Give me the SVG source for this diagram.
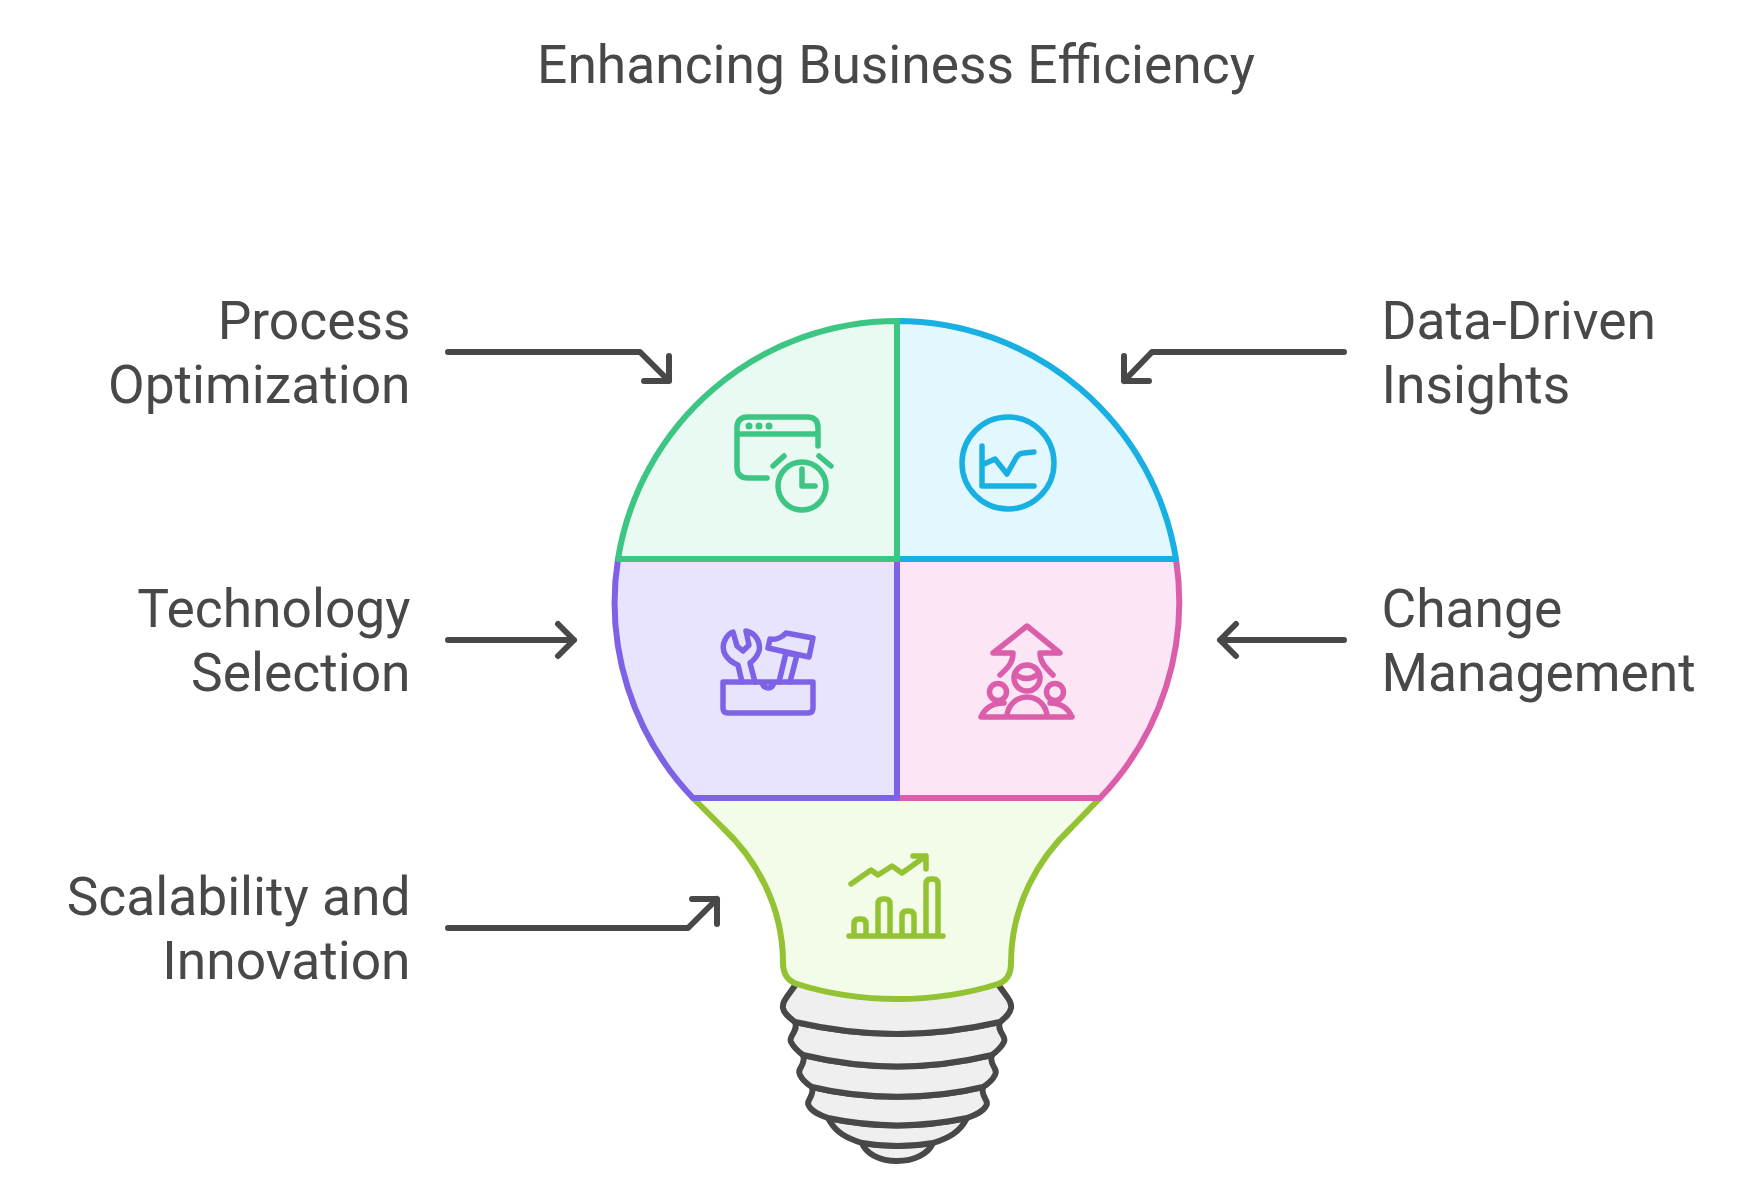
<svg xmlns="http://www.w3.org/2000/svg" width="1761" height="1195" viewBox="0 0 1761 1195">
<style>
text{font-family:Roboto,"Liberation Sans",sans-serif;font-size:53.33px;fill:#484848}
.e{text-anchor:end}
.a{fill:none;stroke:#484848;stroke-width:6px;stroke-linecap:round;stroke-linejoin:round}
.i{fill:none;stroke-width:5.5px;stroke-linecap:round;stroke-linejoin:round}
.b{fill:#efefef;stroke:#484848;stroke-width:6px;stroke-linejoin:round;stroke-linecap:round}
.s{stroke-width:6px;stroke-linejoin:round}
</style>
<rect width="1761" height="1195" fill="#fff"/>
<text id="title" x="896" y="83" text-anchor="middle">Enhancing Business Efficiency</text>
<g id="base">
<path class="b" d="M862,1143C866,1154 880,1161 897,1161C914,1161 928,1154 933,1143C910,1147 885,1147 862,1143Z"/>
<path class="b" d="M828,1118C835,1132 846,1138 862,1143C885,1147 910,1147 933,1143C949,1138 960,1132 967,1118C920,1128 875,1128 828,1118Z"/>
<path class="b" d="M812,1087C815,1096 805,1101 809,1106C812,1112 820,1115 828,1118C875,1128 920,1128 967,1118C975,1115 983,1112 986,1106C990,1101 980,1096 983,1087C930,1100 865,1100 812,1087Z"/>
<path class="b" d="M803,1055C807,1064 796,1069 800,1075C803,1081 807,1084 812,1087C865,1100 930,1100 983,1087C988,1084 992,1081 995,1075C999,1069 988,1064 992,1055C930,1070 865,1070 803,1055Z"/>
<path class="b" d="M795,1022C799,1031 788,1036 791,1042C794,1048 799,1052 803,1055C865,1070 930,1070 992,1055C996,1052 1001,1048 1004,1042C1007,1036 996,1031 1000,1022C930,1038 865,1038 795,1022Z"/>
<path class="b" d="M796,984C788,996 782,1001 783,1008C784,1014 790,1018 795,1022C865,1038 930,1038 1000,1022C1005,1018 1010,1014 1011,1008C1012,1001 1006,996 998,984Z"/>
</g>
<g id="scalability-innovation">
<path class="s" fill="#f3fbe9" stroke="#93c332" d="M693,798L723,828C755,858 783,905 783,963C783,974 788,981 797,984C860,1004 934,1004 998,984C1007,981 1011,974 1011,963C1011,905 1039,858 1071,828L1100,798Z"/>
<g class="i" stroke="#93c332">
<path d="M851,884L871,870L878,875L892,866L902,873L926,856M913,856H926V869"/>
<path d="M849,936H943M854,936V924Q854,919 859,919H861Q866,919 866,924V936M878,936V904Q878,899 883,899H885Q890,899 890,904V936M902,936V916Q902,911 907,911H909Q914,911 914,916V936M926,936V884Q926,879 931,879H933Q938,879 938,884V936"/>
</g>
<text class="e" x="410.5" y="915">Scalability and</text>
<text class="e" x="410.5" y="979">Innovation</text>
</g>
<g id="change-management">
<path class="s" fill="#fce6f5" stroke="#da5ea9" d="M1176,559A283,283 0 0 1 1100,798H897V559Z"/>
<g class="i" stroke="#da5ea9">
<path d="M1000,675C1009,667 1013,662 1013,653H993L1027,626L1060,653H1040C1040,662 1045,667 1053,675"/>
<circle cx="1027" cy="678" r="13"/>
<path d="M1016,675Q1027,682 1037,675"/>
<circle cx="998" cy="692" r="8.5"/>
<circle cx="1055" cy="692" r="8.5"/>
<path d="M981,717H1072M1007,717A20,20 0 0 1 1047,717M981,717C985,708 993,703 1004,703M1072,717C1068,708 1060,703 1050,703"/>
</g>
<text x="1381.5" y="627">Change</text>
<text x="1381.5" y="691">Management</text>
</g>
<g id="technology-selection">
<path class="s" fill="#e8e4fe" stroke="#7e62e5" d="M618,559A283,283 0 0 0 693,798H897V559Z"/>
<g class="i" stroke="#7e62e5">
<path d="M723,682H813V708Q813,713 808,713H728Q723,713 723,708ZM762,682A6,6 0 0 0 774,682"/>
<path d="M742,682L738,665C726,660 720,650 725,640C727,636 730,633 733,632L737,646L743,651L749,645L746,631C756,633 761,643 759,651C757,657 754,660 750,663L755,682"/>
<path d="M779,682L786,653L797,655L790,682M768,648L770,639C775,640 782,638 786,633L813,638L809,657Z"/>
</g>
<text class="e" x="410.5" y="627">Technology</text>
<text class="e" x="410.5" y="691">Selection</text>
</g>
<g id="data-driven-insights">
<path class="s" fill="#e3f8fe" stroke="#18b0e3" d="M897,321A283,283 0 0 1 1176,559H897Z"/>
<g class="i" stroke="#18b0e3">
<circle cx="1008" cy="463" r="46"/>
<path d="M982,446V486H1034M982,465L995,459L1007,474L1016,458Q1019,453 1024,453L1034,452"/>
</g>
<text x="1381.5" y="339">Data-Driven</text>
<text x="1381.5" y="403">Insights</text>
</g>
<g id="process-optimization">
<path class="s" fill="#e9faf3" stroke="#3cc583" d="M897,321A283,283 0 0 0 618,559H897Z"/>
<g class="i" stroke="#3cc583">
<path d="M767,478H748Q737,478 737,467V428Q737,417 748,417H807Q818,417 818,428V446M737,434H818"/>
<circle cx="802" cy="486" r="24"/>
<path d="M802,469V486H815M773,466L784,456M819,456L831,466"/>
</g>
<g fill="#3cc583"><circle cx="749" cy="426" r="3.5"/><circle cx="759" cy="426" r="3.5"/><circle cx="769" cy="426" r="3.5"/></g>
<text class="e" x="410.5" y="339">Process</text>
<text class="e" x="410.5" y="403">Optimization</text>
</g>
<g id="connectors">
<path class="a" d="M448,352H640L669,381M669,356V381H644"/>
<path class="a" d="M1344,352H1152L1124,381M1124,356V381H1149"/>
<path class="a" d="M448,640H574M558,624L574,640L558,656"/>
<path class="a" d="M1344,640H1220M1236,624L1220,640L1236,656"/>
<path class="a" d="M448,928H688L717,899M692,899H717V924"/>
</g>
</svg>
